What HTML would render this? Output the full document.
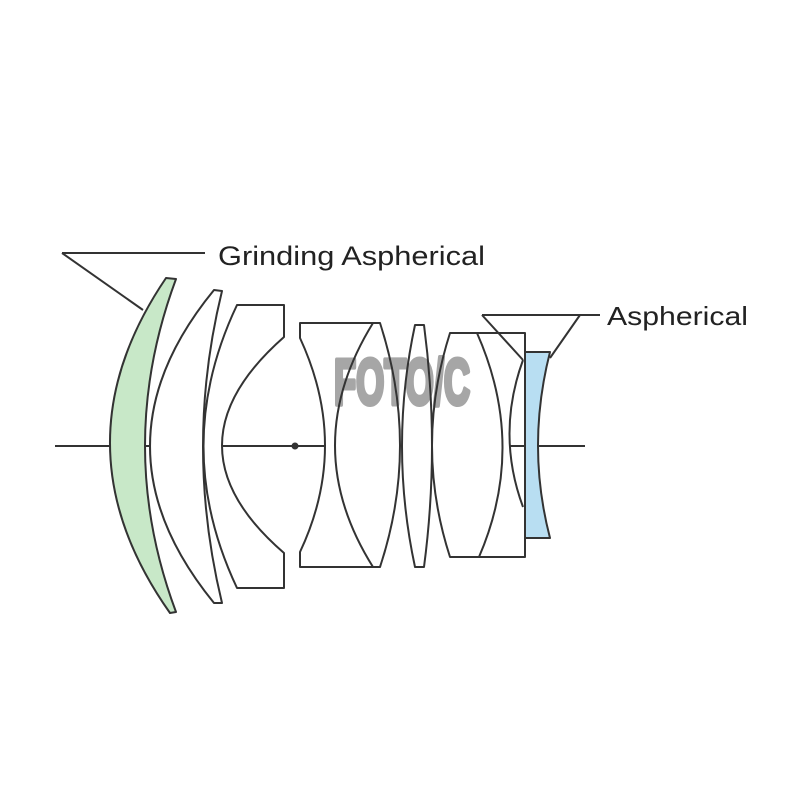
<!DOCTYPE html>
<html><head><style>html,body{margin:0;padding:0;background:#fff;width:800px;height:800px;overflow:hidden}</style></head>
<body>
<svg width="800" height="800" viewBox="0 0 800 800" xmlns="http://www.w3.org/2000/svg">
<rect width="800" height="800" fill="#fff"/>
<g stroke="none">
<path d="M166 278 L176 279 Q114 446 176 612 L170 613 Q52 446 166 278 Z" fill="#c8e8c8"/>
<path d="M525 352 L550 352 Q526 446 550 538 L525 538 Z" fill="#b8def2"/>
</g>
<text x="334" y="404" font-family="Liberation Sans, sans-serif" font-weight="bold" font-size="64" fill="#a6a6a6" stroke="#a6a6a6" stroke-width="5" stroke-linejoin="round" textLength="136" lengthAdjust="spacingAndGlyphs">FOTO/C</text>
<g fill="none" stroke="#333" stroke-width="2" stroke-linejoin="round">
<line x1="55" y1="446" x2="110" y2="446"/>
<line x1="145" y1="446" x2="150" y2="446"/>
<line x1="222" y1="446" x2="325" y2="446"/>
<line x1="510" y1="446" x2="525" y2="446"/>
<line x1="538" y1="446" x2="585" y2="446"/>
<circle cx="295" cy="446" r="2.5" fill="#333"/>
<path d="M166 278 L176 279 Q114 446 176 612 L170 613 Q52 446 166 278 Z"/>
<path d="M214 290 L222 291 Q184 446 222 603 L214 603 Q86 446 214 290 Z"/>
<path d="M237 305 L284 305 L284 337 Q160 446 284 553 L284 588 L237 588 Q170 446 237 305 Z"/>
<path d="M300 323 L380 323 Q420 446 380 567 L300 567 L300 552 Q350 446 300 338 Z"/>
<path d="M373 323 Q297 446 373 567"/>
<path d="M415 325 L424 325 Q440 446 424 567 L415 567 Q389 446 415 325 Z"/>
<path d="M450 333 L525 333 L525 557 L450 557 Q414 446 450 333 Z"/>
<path d="M477 333 Q527 446 479 557"/>
<path d="M523 360 Q496 434 523 507"/>
<path d="M525 352 L550 352 Q526 446 550 538 L525 538 Z"/>
<path d="M62 253 L205 253 M62 253 L143 310"/>
<path d="M482 315 L600 315 M482 315 L523 360 M580 315 L550 358"/>
</g>
<text x="218" y="265" font-family="Liberation Sans, sans-serif" font-size="27" fill="#222" textLength="267" lengthAdjust="spacingAndGlyphs">Grinding Aspherical</text>
<text x="607" y="325" font-family="Liberation Sans, sans-serif" font-size="26" fill="#222" textLength="141" lengthAdjust="spacingAndGlyphs">Aspherical</text>
</svg>
</body></html>
